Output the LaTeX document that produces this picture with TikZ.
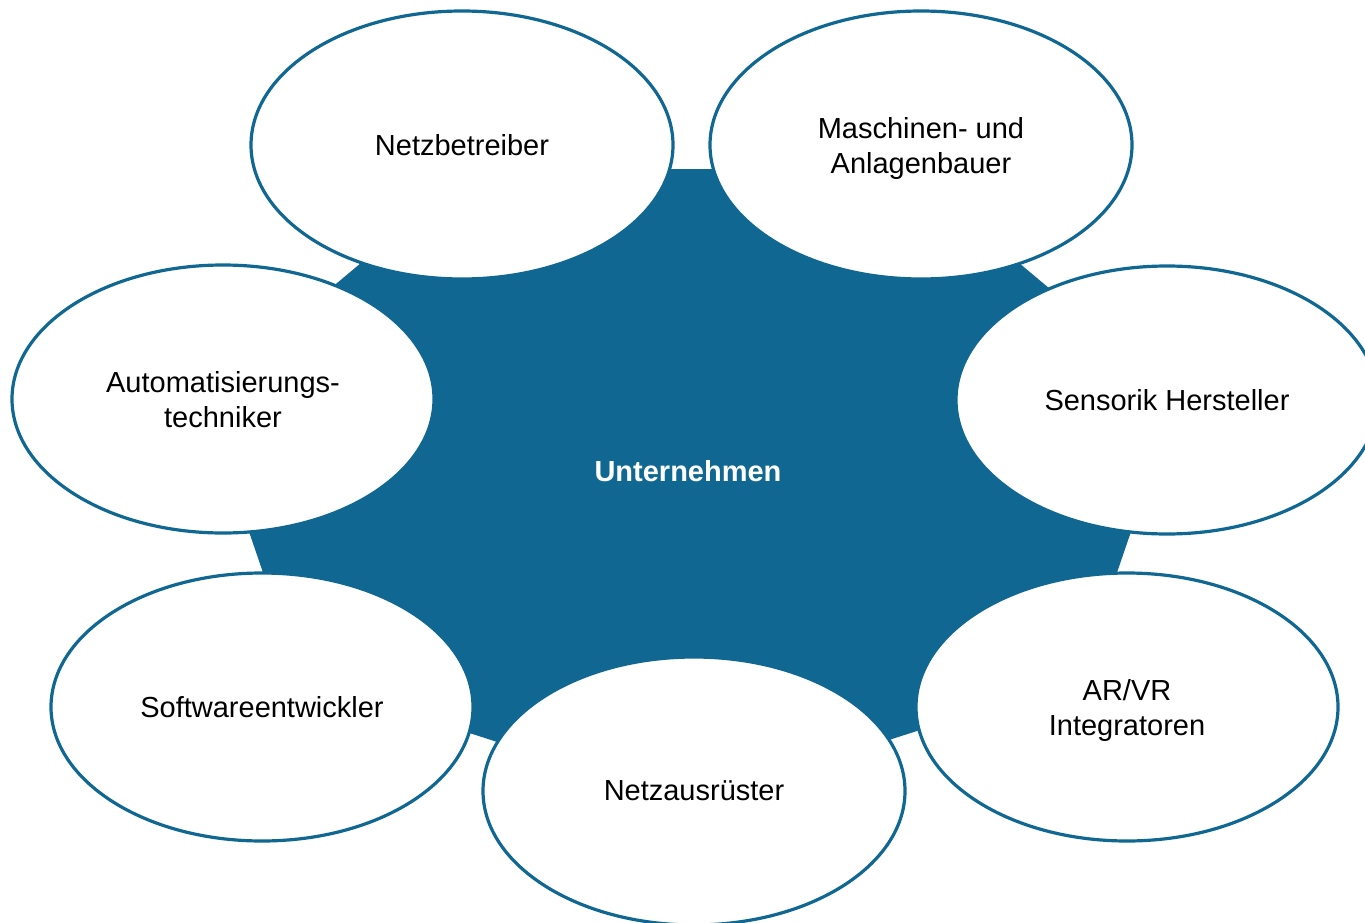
\documentclass[tikz,border=0pt]{standalone}
\usepackage{fontspec}
\setmainfont{Liberation Sans}
\usetikzlibrary{shapes.geometric}
\definecolor{hubblue}{RGB}{16,104,146}
\tikzset{
  partner/.style={ellipse, draw=hubblue, line width=3.2pt, fill=white,
    minimum width=422pt, minimum height=268pt, inner sep=0pt,
    align=center, text depth=0pt, font=\fontsize{29}{35}\selectfont, text=black},
  hublabel/.style={font=\fontsize{29}{35}\selectfont\bfseries, text=white, text depth=0pt}
}
\begin{document}
\begin{tikzpicture}[x=1pt,y=1pt]
\useasboundingbox (0,0) rectangle (1365,-923);
% central heptagon
\coordinate (c) at (690,-470);
\fill[hubblue, shift={(c)}]
  (12.857:500pt and 334pt) -- (64.286:500pt and 334pt) -- (115.714:500pt and 334pt)
  -- (167.143:500pt and 334pt) -- (218.571:500pt and 334pt) -- (270:500pt and 334pt)
  -- (321.429:500pt and 334pt) -- cycle;
\node[hublabel] (hub) at (688,-471) {Unternehmen};
% partner ellipses
\node[partner] (netz) at (462,-145) {Netzbetreiber};
\node[partner] (masch) at (921,-145) {Maschinen- und\\Anlagenbauer};
\node[partner] (sens) at (1167,-400) {Sensorik Hersteller};
\node[partner] (arvr) at (1127,-707) {AR/VR\\Integratoren};
\node[partner] (soft) at (262,-707) {Softwareentwickler};
\node[partner] (netzaus) at (694,-791) {Netzausrüster};
\node[partner] (auto) at (223,-399) {Automatisierungs-\\techniker};
\end{tikzpicture}
\end{document}
